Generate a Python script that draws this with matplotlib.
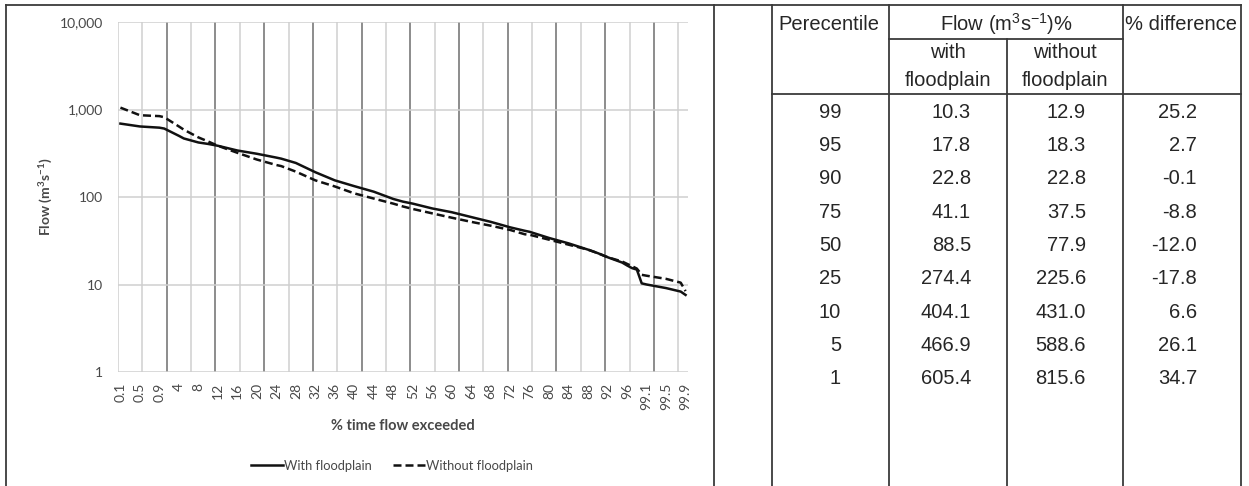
import matplotlib
matplotlib.use("Agg")
import matplotlib.pyplot as plt
from matplotlib.lines import Line2D

plt.rcParams["font.family"] = ["Lato", "DejaVu Sans"]
plt.rcParams["mathtext.default"] = "regular"

# ---- flow duration curves (x = % time flow exceeded) ----
pct = [0.1, 0.5, 0.9, 1, 4, 5, 8, 10, 12, 16, 20, 24, 25, 28, 32, 36, 40, 44, 48, 50,
       52, 56, 60, 64, 68, 72, 75, 76, 80, 84, 88, 90, 92, 95, 96, 97, 98, 99,
       99.1, 99.5, 99.8, 99.9]
flow_with = [690, 640, 620, 605.4, 500, 466.9, 420, 404.1, 385, 340, 312, 282, 274.4, 245,
             192, 155, 133, 115, 95, 88.5, 84, 74, 67, 59, 52, 45, 41.1, 40, 34, 29.5,
             25, 22.8, 20.5, 17.8, 16.5, 15.4, 14.8, 10.3, 10.0, 9.1, 8.3, 7.6]
flow_without = [1050, 860, 840, 815.6, 640, 588.6, 480, 431.0, 385, 320, 268, 232, 225.6, 195,
                155, 132, 110, 96, 84, 77.9, 73, 65, 58, 52, 47, 42, 37.5, 37, 32.5, 28.5,
                25, 22.8, 20.5, 18.3, 17.2, 16.2, 15.2, 12.9, 12.6, 11.6, 10.5, 8.4]

xtick_labels = ["0.1", "0.5", "0.9", "4", "8", "12", "16", "20", "24", "28", "32", "36",
                "40", "44", "48", "52", "56", "60", "64", "68", "72", "76", "80", "84",
                "88", "92", "96", "99.1", "99.5", "99.9"]
ytick_vals = [1, 10, 100, 1000, 10000]
ytick_labels = ["1", "10", "100", "1,000", "10,000"]

# ---- table ----
tbl_pctile = [99, 95, 90, 75, 50, 25, 10, 5, 1]
tbl_with = [10.3, 17.8, 22.8, 41.1, 88.5, 274.4, 404.1, 466.9, 605.4]
tbl_without = [12.9, 18.3, 22.8, 37.5, 77.9, 225.6, 431.0, 588.6, 815.6]
tbl_diff = [25.2, 2.7, -0.1, -8.8, -12.0, -17.8, 6.6, 26.1, 34.7]


def cat_pos(p):
    # category axis: 0.1..0.9, 1..99, 99.1..99.9 (117 categories)
    if p < 1:
        return round(p * 10) - 1
    if p <= 99:
        return p + 8
    return 107 + round((p - 99) * 10)


W, H = 1249, 486
fig = plt.figure(figsize=(W / 100, H / 100), dpi=100)
fx = lambda px: px / W
fy = lambda py: 1 - py / H

ax = fig.add_axes([fx(118), fy(372), fx(688) - fx(118), fy(22) - fy(372)])
ax.set_yscale("log")
ax.set_ylim(1, 10000)
ax.set_xlim(-0.5, 116.5)

for k in range(0, 24):
    xg = -0.5 + 5 * k
    dark = (k % 2 == 0) and k > 0
    ax.axvline(xg, color="#6e6e6e" if dark else "#cfcfcf", lw=1.1, zorder=1)
for v in ytick_vals:
    ax.axhline(v, color="#cfcfcf", lw=1.1, zorder=1)

xs = [cat_pos(p) for p in pct]
ax.plot(xs, flow_with, color="#111111", lw=1.8, zorder=3, label="With floodplain")
ax.plot(xs, flow_without, color="#111111", lw=1.8, ls=(0, (3.2, 1.6)), zorder=3,
        label="Without floodplain")

for s in ax.spines.values():
    s.set_visible(False)
ax.set_yticks(ytick_vals)
ax.set_yticklabels(ytick_labels)
ax.yaxis.set_minor_locator(matplotlib.ticker.NullLocator())
ax.set_xticks([cat_pos(float(t)) for t in xtick_labels])
ax.set_xticklabels(xtick_labels, rotation=90)
ax.tick_params(axis="y", length=0, pad=11, labelsize=10, labelcolor="#484848")
ax.tick_params(axis="x", length=0, pad=8, labelsize=10, labelcolor="#484848")
ax.set_ylabel("Flow (m$^{3}$s$^{-1}$)", fontsize=10, fontweight="bold", color="#484848",
              labelpad=3)
ax.set_xlabel("% time flow exceeded", fontsize=10.5, fontweight="bold", color="#484848",
              labelpad=6)

fig.legend(loc="center", bbox_to_anchor=(fx(392), fy(466)), ncol=2, frameon=False,
           fontsize=9.3, handlelength=2.5, handletextpad=0.1, columnspacing=1.6,
           labelcolor="#484848")

# ---- frame / table lines ----
lc, lw = "#3a3a3a", 1.3
def hline(y, x0, x1):
    fig.add_artist(Line2D([fx(x0), fx(x1)], [fy(y), fy(y)], color=lc, lw=lw))
def vline(x, y0, y1):
    fig.add_artist(Line2D([fx(x), fx(x)], [fy(y0), fy(y1)], color=lc, lw=lw))

hline(5, 6, 1241)
hline(39, 889, 1123)
hline(94, 772, 1241)
for xv in [6, 714, 772, 889, 1123, 1241]:
    vline(xv, 5, 486)
vline(1007, 39, 486)

tc, ts = "#262626", 14.5
tkw = dict(color=tc, fontsize=ts, family=["Liberation Sans", "DejaVu Sans"], va="center")
fig.text(fx(829), fy(24), "Perecentile", ha="center", **tkw)
fig.text(fx(1006), fy(24), "Flow (m$^{3}$s$^{-1}$)%", ha="center", **tkw)
fig.text(fx(1181), fy(24), "% difference", ha="center", **tkw)
fig.text(fx(948), fy(53), "with", ha="center", **tkw)
fig.text(fx(948), fy(80), "floodplain", ha="center", **tkw)
fig.text(fx(1065), fy(53), "without", ha="center", **tkw)
fig.text(fx(1065), fy(80), "floodplain", ha="center", **tkw)

for i in range(len(tbl_pctile)):
    yy = fy(112.3 + 33.3 * i)
    fig.text(fx(841), yy, f"{tbl_pctile[i]}", ha="right", **tkw)
    fig.text(fx(971), yy, f"{tbl_with[i]:.1f}", ha="right", **tkw)
    fig.text(fx(1086), yy, f"{tbl_without[i]:.1f}", ha="right", **tkw)
    fig.text(fx(1197), yy, f"{tbl_diff[i]:.1f}", ha="right", **tkw)

fig.savefig("out.png", dpi=100)
